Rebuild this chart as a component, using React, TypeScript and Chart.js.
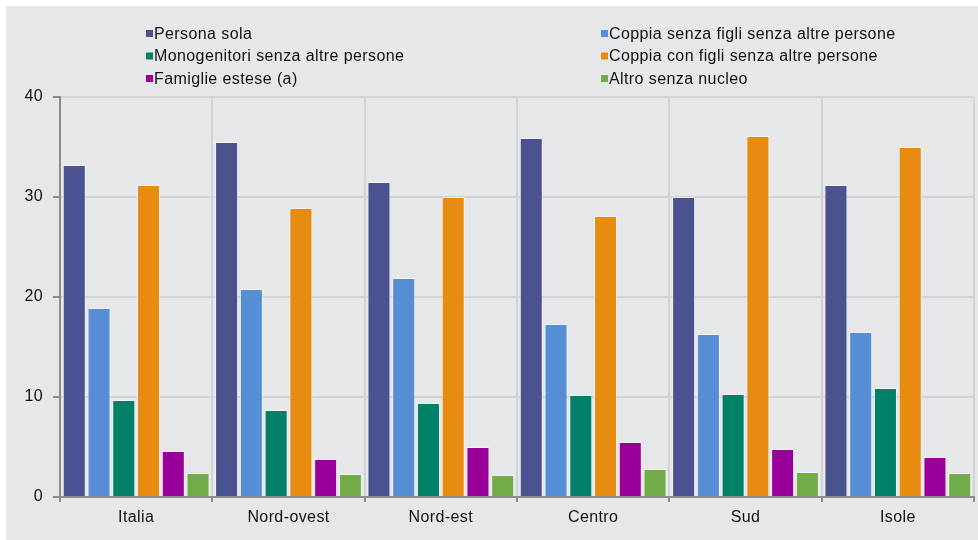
import React, { useEffect, useRef } from "react";
import { Chart, registerables } from "chart.js";

Chart.register(...registerables);

const categories = ["Italia", "Nord-ovest", "Nord-est", "Centro", "Sud", "Isole"];
const seriesNames = [
  "Persona sola",
  "Coppia senza figli senza altre persone",
  "Monogenitori senza altre persone",
  "Coppia con figli senza altre persone",
  "Famiglie estese (a)",
  "Altro senza nucleo",
];
const personaSola = [33.2, 35.5, 31.5, 35.9, 30.0, 31.2];
const coppiaSenzaFigli = [18.9, 20.8, 21.9, 17.3, 16.3, 16.5];
const monogenitori = [9.7, 8.7, 9.4, 10.2, 10.3, 10.9];
const coppiaConFigli = [31.2, 28.9, 30.0, 28.1, 36.1, 35.0];
const famiglieEstese = [4.6, 3.8, 5.0, 5.5, 4.8, 4.0];
const altroSenzaNucleo = [2.4, 2.3, 2.2, 2.8, 2.5, 2.4];
const seriesColors = ["#4a5290", "#558ed5", "#008066", "#e88b11", "#990099", "#72ac48"];
const yTicks = [0, 10, 20, 30, 40];

const FONT = "'Liberation Sans', Arial, sans-serif";
const SPACING = "0.4px";

const spacingPlugin = {
  id: "letterSpacing",
  beforeInit(chart: any) {
    chart.ctx.letterSpacing = SPACING;
  },
  beforeUpdate(chart: any) {
    chart.ctx.letterSpacing = SPACING;
  },
  beforeDraw(chart: any) {
    chart.ctx.letterSpacing = SPACING;
  },
};

const legendPlugin = {
  id: "twoColLegend",
  afterDraw(chart: any) {
    const ctx = chart.ctx;
    ctx.save();
    ctx.letterSpacing = SPACING;
    ctx.font = `16px ${FONT}`;
    ctx.textBaseline = "middle";
    ctx.textAlign = "left";
    const colX = [140, 595];
    const rowY = [27.5, 50, 72.5];
    chart.data.datasets.forEach((ds: any, i: number) => {
      const x = colX[i % 2];
      const y = rowY[Math.floor(i / 2)];
      ctx.fillStyle = ds.backgroundColor;
      ctx.fillRect(x, y - 3.5, 7, 7);
      ctx.fillStyle = "#111";
      ctx.fillText(ds.label, x + 8, y + 1);
    });
    ctx.restore();
  },
};

export default function App() {
  const ref = useRef<HTMLCanvasElement>(null);
  useEffect(() => {
    document.body.style.margin = "0";
    const values = [personaSola, coppiaSenzaFigli, monogenitori, coppiaConFigli, famiglieEstese, altroSenzaNucleo];
    const chart = new Chart(ref.current!, {
      type: "bar",
      data: {
        labels: categories,
        datasets: seriesNames.map((name, i) => ({
          label: name,
          data: values[i],
          backgroundColor: seriesColors[i],
          borderColor: "rgba(255,255,255,0.55)",
          borderWidth: 1,
          categoryPercentage: 0.975,
          barPercentage: 0.93,
        })),
      },
      options: {
        animation: false,
        responsive: false,
        maintainAspectRatio: false,
        layout: { padding: { top: 91, right: 4, left: 0, bottom: 0 } },
        plugins: { legend: { display: false }, tooltip: { enabled: false } },
        scales: {
          x: {
            offset: true,
            grid: {
              offset: true,
              color: "#d2d3d6",
              lineWidth: 2,
              tickColor: "#8c8c8c",
              tickLength: 5,
              drawTicks: true,
            },
            border: { color: "#8c8c8c", width: 2 },
            ticks: { color: "#111", font: { family: FONT, size: 16 }, padding: 6 },
            afterFit(scale: any) {
              scale.height = 43;
            },
          },
          y: {
            min: 0,
            max: 40,
            afterBuildTicks(scale: any) {
              scale.ticks = yTicks.map((v) => ({ value: v }));
            },
            grid: {
              color: "#d2d3d6",
              lineWidth: 2,
              tickColor: "#8c8c8c",
              tickLength: 7,
            },
            border: { color: "#8c8c8c", width: 2 },
            ticks: { color: "#111", font: { family: FONT, size: 16 }, padding: 10 },
            afterFit(scale: any) {
              scale.width = 54;
            },
          },
        },
      },
      plugins: [spacingPlugin, legendPlugin],
    });
    return () => chart.destroy();
  }, []);
  return (
    <div style={{ width: 978, height: 540, background: "#fff", position: "relative" }}>
      <div style={{ position: "absolute", left: 6, top: 6, width: 972, height: 534, background: "#e6e7e9" }}>
        <canvas ref={ref} width={972} height={534} style={{ display: "block" }} />
      </div>
    </div>
  );
}
